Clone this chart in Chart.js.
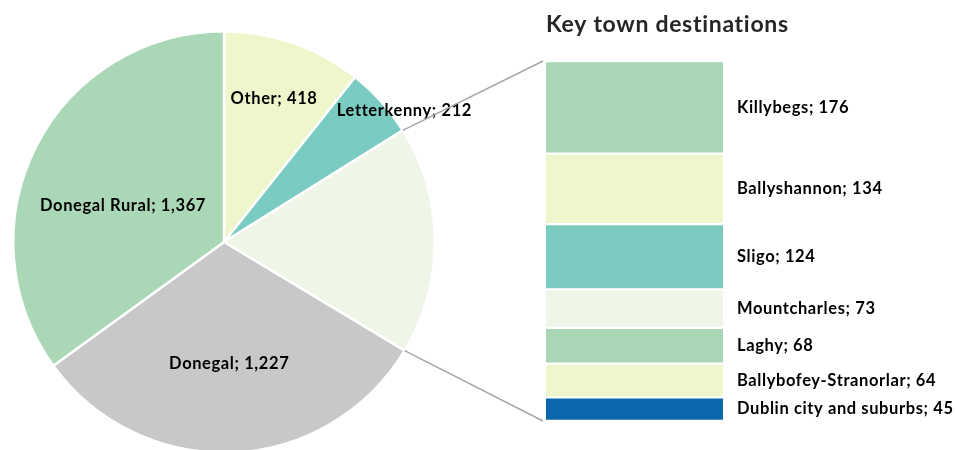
<!DOCTYPE html>
<html>
<head>
<meta charset="utf-8">
<script src="https://cdn.jsdelivr.net/npm/chart.js@4.4.1/dist/chart.umd.min.js"></script>
<style>
  html, body { margin: 0; padding: 0; background: #fff; width: 957px; height: 450px; overflow: hidden; }
  #pie { position: absolute; left: 0; top: 0; }
  #towns { position: absolute; left: 530px; top: 0; }
</style>
</head>
<body>
<canvas id="pie" width="957" height="470"></canvas>
<canvas id="towns" width="427" height="450"></canvas>
<script>
// 데이터 ####################################################
const townLabels = ["Killybegs", "Ballyshannon", "Sligo", "Mountcharles", "Laghy", "Ballybofey-Stranorlar", "Dublin city and suburbs"];
const townValues = [176, 134, 124, 73, 68, 64, 45];
const townColors = ["#A9D7B6", "#EEF6CB", "#7BCBC1", "#EFF5E7", "#A9D7B6", "#EEF6CB", "#0B68AD"];

const pieLabels = ["Other", "Letterkenny", "Key towns", "Donegal", "Donegal Rural"];
const pieValues = [418, 212, townValues.reduce((a, b) => a + b, 0), 1227, 1367];
const pieColors = ["#EEF6CB", "#7ACBC1", "#EFF5E7", "#C8C8C8", "#AAD7B5"];
const pieShowLabel = [true, true, false, true, true];

const titleText = "Key town destinations";

// 라벨 위치 (반지름 비율, 각도 보정)
const labelRadius = [0.72, 1.06, 0, 0.58, 0.51];
const labelShift = [0, 5.6, 0, 0, -7];

const FONT = "Lato, sans-serif";
const LABEL_FONT = `bold 16.5px ${FONT}`;

function fmt(v) {
  return v.toLocaleString("en-US");
}

// 오른쪽 누적 막대 ####################################################
function towns_chart() {
  const barLabelPlugin = {
    id: "barLabels",
    afterDatasetsDraw(chart) {
      const ctx = chart.ctx;
      ctx.save();
      ctx.font = LABEL_FONT;
      ctx.letterSpacing = "0.6px";
      ctx.fillStyle = "#000";
      ctx.textBaseline = "middle";
      ctx.textAlign = "left";
      chart.data.datasets.forEach((ds, i) => {
        const el = chart.getDatasetMeta(i).data[0];
        const { x, y, base, width } = el.getProps(["x", "y", "base", "width"], true);
        ctx.fillText(`${ds.label}; ${fmt(ds.data[0])}`, x + width / 2 + 14, (y + base) / 2);
      });

      // 제목 (폭 제한 없이 직접 그림)
      ctx.font = `bold 23px ${FONT}`;
      ctx.letterSpacing = "0.7px";
      ctx.fillStyle = "#262626";
      ctx.textBaseline = "alphabetic";
      ctx.fillText(titleText, chart.chartArea.left, 32);
      ctx.restore();
    },
  };

  const data = {
    labels: ["Key towns"],
    datasets: townLabels.map((label, i) => ({
      label: label,
      data: [townValues[i]],
      backgroundColor: townColors[i],
      borderColor: "#fff",
      borderWidth: { top: 1.5, bottom: 1.5, left: 0, right: 0 },
      borderSkipped: false,
      barPercentage: 1,
      categoryPercentage: 1,
    })),
  };

  const options = {
    responsive: false,
    animation: false,
    layout: { padding: { left: 16, right: 234, top: 61, bottom: 29 } },
    scales: {
      x: { stacked: true, display: false },
      y: { stacked: true, display: false, reverse: true, min: 0, max: pieValues[2] },
    },
    plugins: {
      legend: { display: false },
      tooltip: { enabled: false },
      title: { display: false },
    },
  };

  window.townsChart = new Chart(document.getElementById("towns"), {
    type: "bar",
    data: data,
    options: options,
    plugins: [barLabelPlugin],
  });
}
towns_chart();

// 왼쪽 파이 ####################################################
function pie_chart() {
  const pieLabelPlugin = {
    id: "pieLabels",
    afterDatasetsDraw(chart) {
      const ctx = chart.ctx;
      const meta = chart.getDatasetMeta(0);
      ctx.save();
      ctx.font = LABEL_FONT;
      ctx.letterSpacing = "0.6px";
      ctx.fillStyle = "#000";
      ctx.textBaseline = "middle";
      ctx.textAlign = "center";
      meta.data.forEach((arc, i) => {
        if (!pieShowLabel[i]) return;
        const { x, y, startAngle, endAngle, outerRadius } = arc.getProps(["x", "y", "startAngle", "endAngle", "outerRadius"], true);
        const mid = (startAngle + endAngle) / 2 + (labelShift[i] * Math.PI) / 180;
        const r = outerRadius * labelRadius[i];
        ctx.fillText(`${pieLabels[i]}; ${fmt(pieValues[i])}`, x + r * Math.cos(mid), y + r * Math.sin(mid));
      });
      ctx.restore();
    },
  };

  // 파이 조각 → 막대 연결선
  const connectorPlugin = {
    id: "connector",
    afterDraw(chart) {
      const bar = window.townsChart;
      if (!bar) return;
      const arc = chart.getDatasetMeta(0).data[2];
      const { x, y, startAngle, endAngle, outerRadius } = arc.getProps(["x", "y", "startAngle", "endAngle", "outerRadius"], true);
      const pr = chart.canvas.getBoundingClientRect();
      const br = bar.canvas.getBoundingClientRect();
      const dx = br.left - pr.left;
      const dy = br.top - pr.top;
      const nBars = bar.data.datasets.length;
      const first = bar.getDatasetMeta(0).data[0].getProps(["x", "y", "base", "width"], true);
      const last = bar.getDatasetMeta(nBars - 1).data[0].getProps(["x", "y", "base", "width"], true);
      const barLeft = first.x - first.width / 2 + dx - 3;
      const barTop = Math.min(first.y, first.base) + dy;
      const barBottom = Math.max(last.y, last.base) + dy;

      const ctx = chart.ctx;
      ctx.save();
      ctx.strokeStyle = "#A6A6A6";
      ctx.lineWidth = 1.5;
      ctx.beginPath();
      ctx.moveTo(x + outerRadius * Math.cos(startAngle), y + outerRadius * Math.sin(startAngle));
      ctx.lineTo(barLeft, barTop);
      ctx.moveTo(x + outerRadius * Math.cos(endAngle), y + outerRadius * Math.sin(endAngle));
      ctx.lineTo(barLeft, barBottom);
      ctx.stroke();
      ctx.restore();
    },
  };

  const data = {
    labels: pieLabels,
    datasets: [
      {
        data: pieValues,
        backgroundColor: pieColors,
        borderColor: "#fff",
        borderWidth: 2.5,
      },
    ],
  };

  const options = {
    responsive: false,
    animation: false,
    layout: { padding: { left: 12, top: 30, right: 521, bottom: 16 } },
    plugins: {
      legend: { display: false },
      tooltip: { enabled: false },
    },
  };

  new Chart(document.getElementById("pie"), {
    type: "pie",
    data: data,
    options: options,
    plugins: [pieLabelPlugin, connectorPlugin],
  });
}
pie_chart();
</script>
</body>
</html>
